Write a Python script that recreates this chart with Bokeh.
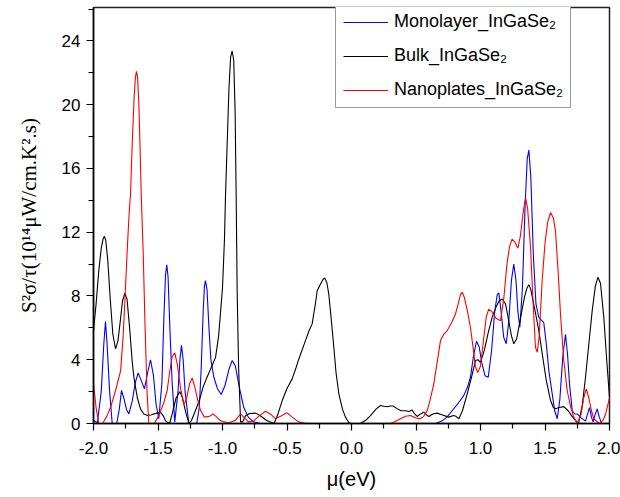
from bokeh.plotting import figure
from bokeh.models import (Range1d, FixedTicker, NumeralTickFormatter, Legend, LegendItem)
from bokeh.embed import file_html
from bokeh.resources import INLINE

# ---- data ----
mono_mu = [-2.0, -1.97, -1.94, -1.92, -1.907, -1.895, -1.875, -1.855, -1.82, -1.80, -1.783, -1.765,
           -1.745, -1.726, -1.70, -1.675, -1.654, -1.635, -1.605, -1.58, -1.558, -1.535, -1.515,
           -1.494, -1.47, -1.455, -1.442, -1.432, -1.422, -1.408, -1.39, -1.37, -1.345, -1.33,
           -1.318, -1.305, -1.29, -1.261, -1.22, -1.20, -1.18, -1.165, -1.15, -1.14, -1.132, -1.12,
           -1.105, -1.09, -1.067, -1.04, -1.01, -0.98, -0.95, -0.925, -0.90, -0.87, -0.835, -0.80,
           -0.76, -0.705, -0.6, 0.6, 0.651, 0.70, 0.74, 0.78, 0.83, 0.87, 0.90, 0.922, 0.945,
           0.969, 0.99, 1.01, 1.035, 1.06, 1.085, 1.11, 1.13, 1.142, 1.16, 1.18, 1.2, 1.22, 1.24,
           1.258, 1.275, 1.29, 1.305, 1.325, 1.345, 1.362, 1.375, 1.39, 1.41, 1.43, 1.452, 1.47,
           1.49, 1.51, 1.53, 1.556, 1.575, 1.595, 1.615, 1.638, 1.659, 1.675, 1.69, 1.711, 1.73,
           1.75, 1.78, 1.814, 1.83, 1.845, 1.86, 1.873, 1.89, 1.905, 1.92, 1.94, 2.0]
mono_pf = [0.2, 0.05, 2.0, 5.0, 6.39, 5.0, 2.0, 0.0, 0.0, 0.9, 2.07, 1.6,
           0.9, 0.6, 1.4, 2.6, 3.17, 2.8, 2.17, 3.2, 4.0, 3.0, 1.2,
           0.3, 2.5, 6.5, 9.3, 9.96, 9.2, 6.0, 2.5, 0.1, 2.0, 4.0,
           4.9, 4.0, 2.0, 0.0, 0.0, 0.0, 1.0, 3.5, 7.0, 8.6, 8.96, 8.4,
           6.0, 4.0, 2.9, 2.2, 1.82, 2.4, 3.4, 3.95, 3.6, 2.3, 1.0, 0.4,
           0.1, 0.0, 0.0, 0.0, 0.0, 0.15, 0.4, 0.8, 1.3, 1.75, 2.3, 2.9, 4.2,
           5.16, 4.8, 3.8, 3.0, 2.9, 4.5, 7.0, 8.1, 8.19, 7.0, 5.4, 5.0, 6.5, 9.0,
           10.0, 9.0, 7.0, 6.04, 8.5, 13.5, 16.6, 17.15, 15.5, 10.5, 7.5, 6.66, 6.5,
           6.35, 5.0, 3.3, 1.86, 0.8, 0.3, 1.5, 4.2, 5.6, 4.3, 2.5, 0.8, 0.6,
           0.6, 0.35, 0.15, 0.6, 1.0, 0.4, 0.1, 0.6, 0.92, 0.4, 0.0, 0.0]

bulk_mu = [-2.0, -1.98, -1.96, -1.94, -1.925, -1.915, -1.905, -1.89, -1.87, -1.85, -1.829, -1.81,
           -1.79, -1.775, -1.757, -1.74, -1.72, -1.70, -1.687, -1.66, -1.635, -1.61, -1.58, -1.55,
           -1.51, -1.48, -1.46, -1.44, -1.41, -1.39, -1.36, -1.33, -1.31, -1.285, -1.26, -1.24,
           -1.21, -1.18, -1.15, -1.12, -1.093, -1.054, -1.03, -1.0, -0.985, -0.977, -0.964, -0.95,
           -0.937, -0.925, -0.913, -0.902, -0.894, -0.886, -0.875, -0.86, -0.845, -0.82, -0.79,
           -0.744, -0.71, -0.66, -0.6, -0.57, -0.537, -0.50, -0.46, -0.43, -0.408, -0.357, -0.33,
           -0.305, -0.28, -0.266, -0.24, -0.22, -0.207, -0.19, -0.176, -0.16, -0.137, -0.12,
           -0.098, -0.07, -0.047, -0.02, 0.0, 0.07, 0.11, 0.147, 0.19, 0.225, 0.25, 0.276, 0.3,
           0.323, 0.35, 0.38, 0.419, 0.445, 0.47, 0.49, 0.509, 0.535, 0.56, 0.58, 0.6, 0.63,
           0.664, 0.70, 0.755, 0.79, 0.81, 0.832, 0.86, 0.897, 0.93, 0.961, 0.98, 1.0, 1.03, 1.06,
           1.09, 1.12, 1.145, 1.168, 1.194, 1.22, 1.24, 1.258, 1.28, 1.31, 1.34, 1.36, 1.375, 1.39,
           1.42, 1.452, 1.48, 1.51, 1.543, 1.565, 1.581, 1.61, 1.646, 1.68, 1.71, 1.736, 1.76,
           1.79, 1.814, 1.84, 1.866, 1.89, 1.91, 1.93, 1.956, 1.98, 2.0]
bulk_pf = [5.8, 7.5, 9.5, 11.0, 11.6, 11.74, 11.5, 10.3, 7.8, 5.6, 4.68, 5.2,
           6.6, 7.7, 8.17, 7.8, 6.0, 3.9, 2.9, 1.6, 0.9, 0.6, 0.5, 0.55,
           0.65, 0.7, 0.5, 0.15, 0.0, 0.6, 1.6, 2.0, 1.6, 0.7, 0.0, 0.2,
           0.8, 1.44, 2.3, 2.9, 3.4, 4.15, 5.5, 8.5, 11.5, 14.2, 17.5, 21.0,
           23.0, 23.37, 22.8, 19.5, 14.2, 8.1, 3.5, 0.1, 0.1, 0.5, 0.62,
           0.65, 0.5, 0.2, 0.0, 0.6, 1.44, 2.2, 2.8, 3.5, 4.05, 5.2, 5.8,
           6.25, 7.5, 8.33, 8.75, 9.05, 9.13, 8.8, 8.1, 6.8, 4.78, 3.2,
           1.86, 0.9, 0.4, 0.05, 0.0, 0.0, 0.2, 0.5, 0.9, 1.13, 1.08, 1.05, 1.1,
           1.1, 0.95, 0.81, 0.8, 0.75, 0.84, 0.6, 0.44, 0.6, 0.71, 0.55, 0.44, 0.6,
           0.65, 0.55, 0.4, 0.5, 0.45, 0.3, 0.8, 1.86, 2.9, 3.95, 4.0, 3.84, 4.6, 5.7,
           6.66, 7.3, 7.7, 7.81, 7.5, 6.4, 5.5, 5.0, 5.3, 6.6, 7.9, 8.5, 8.71, 8.4,
           7.2, 5.83, 4.3, 2.7, 1.44, 1.0, 0.92, 1.0, 1.06, 0.8, 0.45, 0.2, 0.0,
           1.2, 2.9, 5.0, 7.08, 8.6, 9.17, 8.8, 6.66, 3.8, 1.65]

nano_mu = [-2.0, -1.98, -1.959, -1.93, -1.90, -1.868, -1.829, -1.79, -1.77, -1.755, -1.739, -1.725,
           -1.713, -1.70, -1.685, -1.675, -1.667, -1.658, -1.648, -1.638, -1.63, -1.615, -1.60,
           -1.585, -1.571, -1.53, -1.50, -1.48, -1.455, -1.429, -1.41, -1.39, -1.37, -1.35, -1.325,
           -1.3, -1.28, -1.255, -1.235, -1.215, -1.19, -1.17, -1.14, -1.10, -1.075, -1.05, -1.02,
           -0.99, -0.95, -0.90, -0.86, -0.835, -0.80, -0.76, -0.72, -0.667, -0.63, -0.59, -0.55,
           -0.5, -0.46, -0.41, -0.35, 0.30, 0.33, 0.38, 0.42, 0.457, 0.50, 0.535, 0.56, 0.587,
           0.61, 0.638, 0.665, 0.69, 0.715, 0.742, 0.775, 0.806, 0.83, 0.845, 0.858, 0.875, 0.90,
           0.922, 0.945, 0.96, 0.978, 1.0, 1.02, 1.045, 1.064, 1.09, 1.12, 1.155, 1.18, 1.205,
           1.225, 1.245, 1.265, 1.29, 1.31, 1.33, 1.349, 1.365, 1.388, 1.405, 1.426, 1.44, 1.455,
           1.478, 1.50, 1.52, 1.543, 1.565, 1.581, 1.60, 1.62, 1.645, 1.672, 1.70, 1.723, 1.75,
           1.78, 1.80, 1.82, 1.84, 1.86, 1.878, 1.92, 1.95, 1.97, 2.0]
nano_pf = [2.5, 1.0, 0.0, 0.0, 0.4, 1.0, 2.07, 3.3, 5.5, 8.0, 10.8, 13.0,
           14.4, 17.5, 20.5, 21.7, 22.1, 21.7, 20.0, 17.0, 14.4, 10.8, 6.0,
           2.0, 0.0, 0.0, 0.4, 0.8, 1.3, 2.07, 3.2, 4.2, 4.43, 3.7, 2.2,
           1.19, 1.5, 2.5, 2.86, 2.3, 1.4, 0.81, 0.4, 0.45, 0.6, 0.45, 0.2,
           0.1, 0.05, 0.2, 0.6, 0.4, 0.1, 0.15, 0.45, 0.77, 0.6, 0.3, 0.45,
           0.67, 0.4, 0.1, 0.0, 0.0, 0.1, 0.3, 0.45, 0.5, 0.35, 0.3, 0.45, 0.81,
           1.5, 2.48, 3.9, 5.2, 5.6, 5.83, 6.3, 6.87, 7.6, 8.1, 8.23, 7.9, 7.0,
           6.04, 4.6, 3.6, 3.2, 3.6, 5.0, 6.7, 7.18, 7.0, 6.6, 6.45, 7.8, 10.0,
           11.1, 11.57, 11.4, 11.0, 11.8, 13.2, 14.18, 13.5, 11.05, 8.0, 4.78, 4.47, 5.5,
           8.96, 11.3, 12.6, 13.24, 12.9, 12.09, 9.8, 6.87, 4.0, 2.07, 1.0, 0.4, 0.0,
           0.6, 1.6, 2.17, 1.6, 0.8, 0.3, 0.0, 0.2, 0.6, 1.6]

series_labels = ["Monolayer_InGaSe\u2082", "Bulk_InGaSe\u2082", "Nanoplates_InGaSe\u2082"]
series_colors = ["#0000ff", "#000000", "#ff0000"]

x_ticks = [-2.0, -1.5, -1.0, -0.5, 0.0, 0.5, 1.0, 1.5, 2.0]
x_minor = [-1.75, -1.25, -0.75, -0.25, 0.25, 0.75, 1.25, 1.75]
y_ticks = [0, 4, 8, 12, 16, 20, 24]
y_minor = [2, 6, 10, 14, 18, 22, 26]

p = figure(width=620, height=497, output_backend="svg", toolbar_location=None,
           x_range=Range1d(-2.0, 2.0), y_range=Range1d(0, 26.1),
           min_border_left=93, min_border_right=11, min_border_top=7, min_border_bottom=74)
p.background_fill_color = "white"
p.border_fill_color = "white"
p.xgrid.visible = False
p.ygrid.visible = False
p.outline_line_color = "#222222"
p.outline_line_width = 1.5

renderers = []
for xs, ys, col in [(mono_mu, mono_pf, series_colors[0]), (bulk_mu, bulk_pf, series_colors[1]),
                    (nano_mu, nano_pf, series_colors[2])]:
    r = p.line(xs, ys, line_color=col, line_width=1.1)
    renderers.append(r)

for ax in (p.xaxis[0], p.yaxis[0]):
    ax.axis_line_width = 1.5
    ax.axis_line_color = "black"
    ax.major_tick_line_color = "black"
    ax.minor_tick_line_color = "black"
    ax.major_tick_line_width = 1.2
    ax.minor_tick_line_width = 1.2
    ax.major_tick_in = 0
    ax.major_tick_out = 7
    ax.minor_tick_in = 0
    ax.minor_tick_out = 5
    ax.major_label_text_font = "Liberation Sans"
    ax.major_label_text_font_size = "17px"
    ax.major_label_text_color = "black"
    ax.axis_label_text_font_style = "normal"
    ax.axis_label_text_color = "black"

p.xaxis[0].ticker = FixedTicker(ticks=x_ticks, minor_ticks=x_minor)
p.xaxis[0].formatter = NumeralTickFormatter(format="0.0")
p.xaxis[0].major_label_standoff = 11
p.xaxis[0].axis_label = "\u03bc(eV)"
p.xaxis[0].axis_label_text_font = "Liberation Sans"
p.xaxis[0].axis_label_text_font_size = "20px"
p.xaxis[0].axis_label_standoff = 11

p.yaxis[0].ticker = FixedTicker(ticks=y_ticks, minor_ticks=y_minor)
p.yaxis[0].major_label_standoff = 6
p.yaxis[0].axis_label = "S\u00b2\u03c3/\u03c4(10\u00b9\u2074\u03bcW/cm.K\u00b2.s)"
p.yaxis[0].axis_label_text_font = "Liberation Serif"
p.yaxis[0].axis_label_text_font_size = "21px"
p.yaxis[0].axis_label_standoff = 18

items = [LegendItem(label=lab, renderers=[r]) for lab, r in zip(series_labels, renderers)]
legend = Legend(items=items, location=(242, 315))
legend.label_text_font = "Liberation Sans"
legend.label_text_font_size = "18px"
legend.label_text_color = "black"
legend.border_line_color = "#333333"
legend.border_line_width = 1.2
legend.background_fill_color = "white"
legend.background_fill_alpha = 1.0
legend.glyph_width = 45
legend.glyph_height = 20
legend.label_height = 20
legend.label_standoff = 6
legend.spacing = 13
legend.padding = 7
legend.margin = 0
p.add_layout(legend, "center")

open("out.html", "w").write(file_html(p, INLINE))
